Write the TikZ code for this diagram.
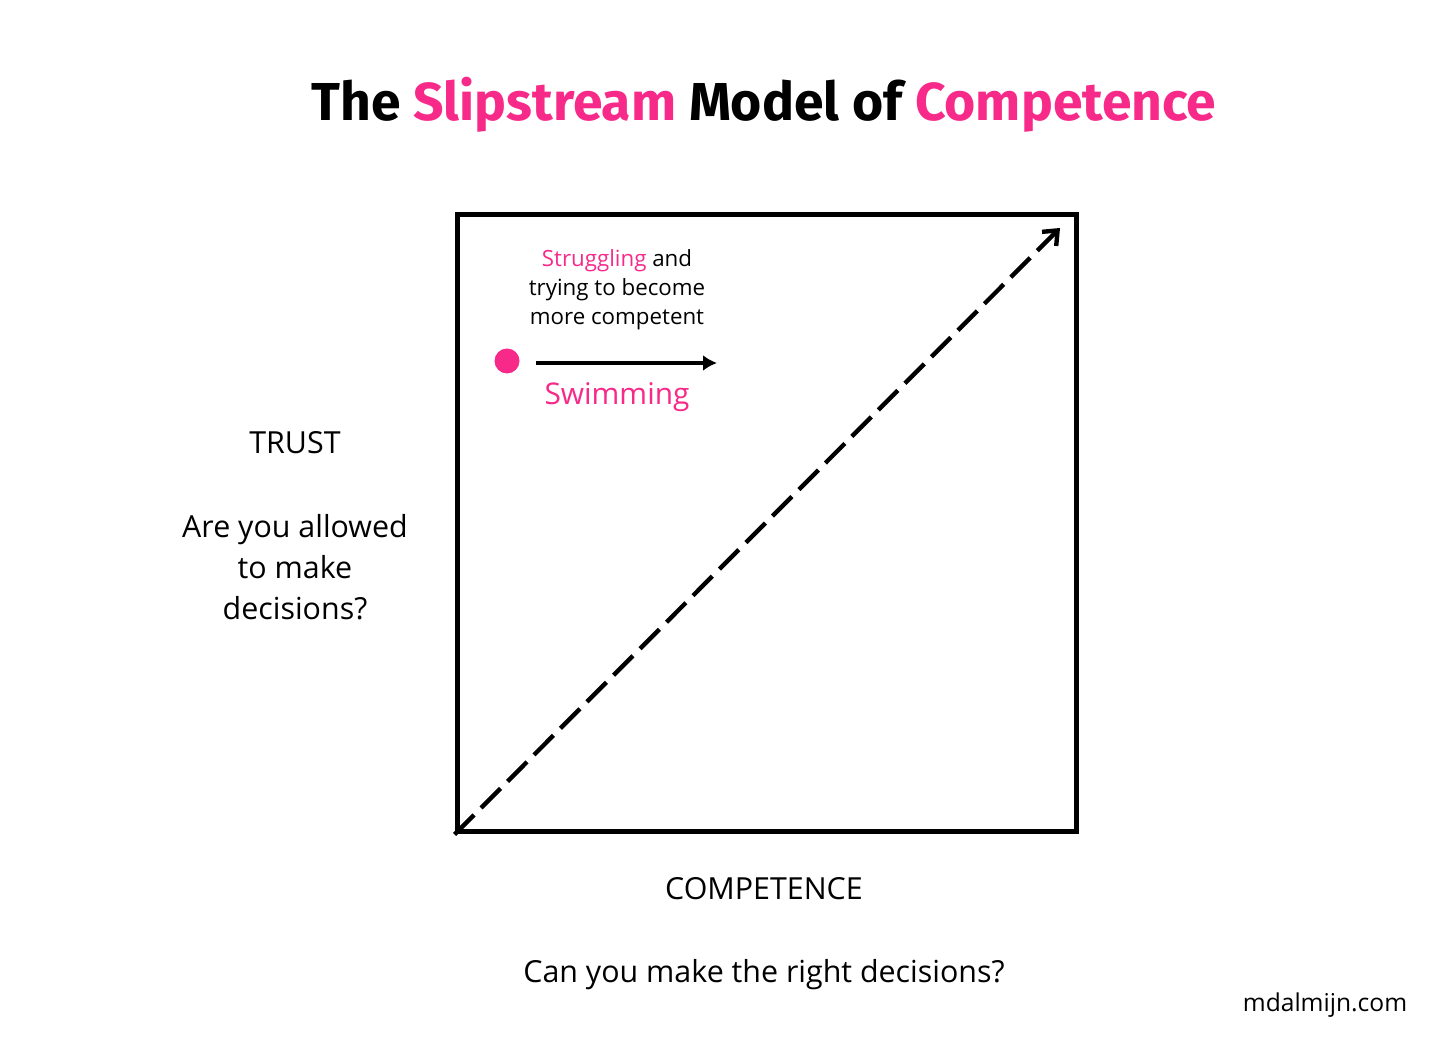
\documentclass[tikz,border=0pt]{standalone}
\usepackage{fontspec}
\setmainfont{Open Sans}
\newfontfamily\titlefont{Fira Sans}
\usepackage{tikz}
\usetikzlibrary{arrows.meta,positioning}
\definecolor{slippink}{HTML}{F72A8A}

\begin{document}
\begin{tikzpicture}[
  x=0.02cm, y=0.02cm,
  lbl/.style={align=center, inner sep=0pt, font=\fontsize{17.3}{23.3}\selectfont},
  note/.style={align=center, inner sep=0pt, font=\fontsize{12.7}{16.6}\selectfont},
  arr/.style={-{Latex[length=2.8mm, width=3.2mm]}, line width=2.2pt},
  diag/.style={-{Straight Barb[length=2.4mm, width=4mm]}, line width=2.5pt, dash pattern=on 5.5mm off 2mm},
]
  \useasboundingbox (0,0) rectangle (1456,1048);

  % Title
  \node[inner sep=0pt, font=\titlefont\bfseries\fontsize{30.4}{36}\selectfont] (title) at (764,943)
    {The \textcolor{slippink}{Slipstream} Model of \textcolor{slippink}{Competence}};

  % Square
  \node[draw, line width=2.85pt, minimum width=12.4cm, minimum height=12.36cm, inner sep=0pt] (grid) at (767,525) {};

  % Diagonal
  \coordinate (tip) at (1060,820);
  \draw[diag] (grid.south west) -- (tip);

  % Swimming
  \node[circle, fill=slippink, minimum size=0.5cm, inner sep=0pt] (dot) at (507,687) {};
  \coordinate (swimend) at (717,685);
  \node[note] (struggle) at (617,758) {\textcolor{slippink}{Struggling} and\\trying to become\\more competent};
  \draw[arr] ([xshift=0.32cm]dot.east |- swimend) -- (swimend);
  \node[inner sep=0pt, text=slippink, font=\fontsize{17}{20}\selectfont] (swim) at (617,651) {Swimming};

  % Axes
  \node[lbl] (trust) at (295,605) {TRUST};
  \node[lbl, below=of trust, yshift=-0.2cm] (allowed) {Are you allowed\\to make\\decisions?};
  \node[lbl] (competence) at (764,159) {COMPETENCE};
  \node[lbl] (right) at (764,73) {Can you make the right decisions?};

  \node[inner sep=0pt, font=\fontsize{14}{16}\selectfont] (site) at (1325,43) {mdalmijn.com};
\end{tikzpicture}
\end{document}
